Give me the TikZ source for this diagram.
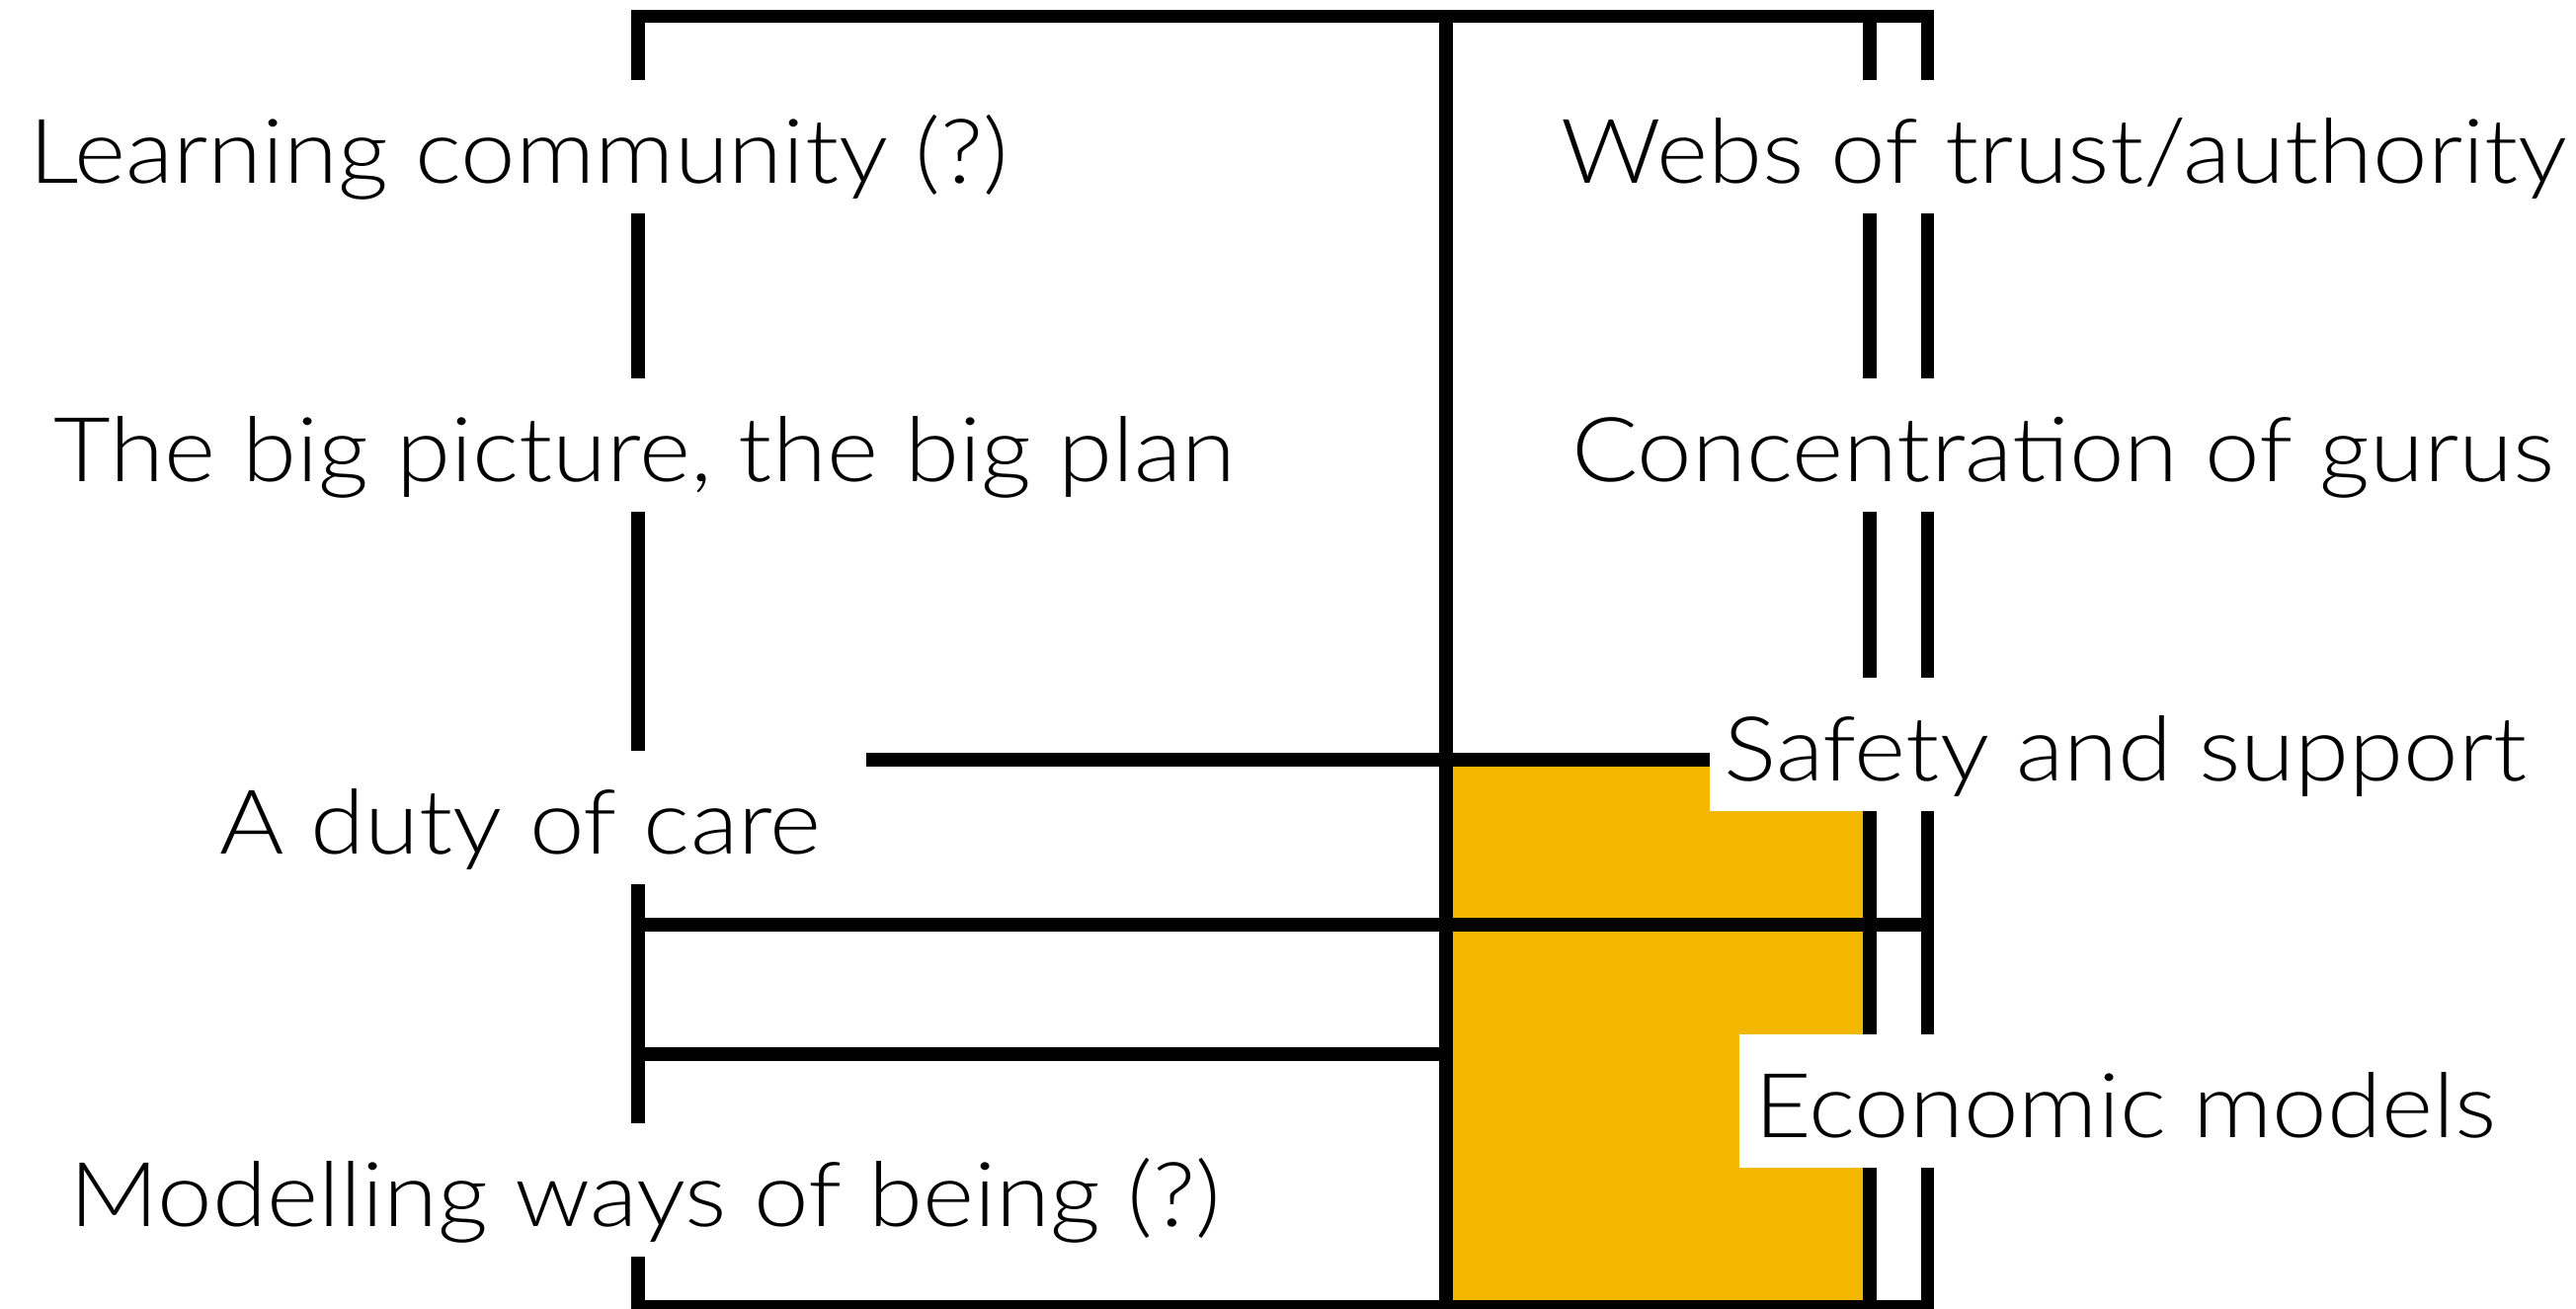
\documentclass[tikz,border=0pt]{standalone}
\usepackage{fontspec}
\setmainfont{Lato}[UprightFont=* Light, FakeStretch=1.1]
\usetikzlibrary{positioning}
\definecolor{mustard}{RGB}{243,183,0}
\tikzset{
  barline/.style={line width=0.135cm},
  tag/.style={fill=white, inner xsep=0.15cm, inner ysep=0pt,
    text height=1.05cm, text depth=0.3cm, anchor=base,
    font=\fontsize{25.8}{30}\selectfont}
}

\begin{document}
\begin{tikzpicture}
      \useasboundingbox (0,0) rectangle (26.08,13.25);
      \fill[mustard] (14.64,0) rectangle (18.93,5.56);
      \draw[barline] (6.46,0.02) rectangle (19.515,13.085);
      \draw[barline] (14.64,0.02) -- (14.64,13.085);
      \draw[barline] (18.93,0.02) -- (18.93,13.085);
      \draw[barline] (8.77,5.56) -- (18.93,5.56);
      \draw[barline] (6.46,3.89) -- (19.515,3.89);
      \draw[barline] (6.46,2.58) -- (14.64,2.58);
      \node[tag] (learning) at (5.25,11.39) {Learning community (?)};
      \node[tag] (bigplan) at (6.53,8.37) {The big picture, the big plan};
      \node[tag] (care) at (5.27,4.60) {A duty of care};
      \node[tag] (being) at (6.53,0.83) {Modelling ways of being (?)};
      \node[tag] (webs) at (20.90,11.39) {Webs of trust/authority};
      \node[tag] (gurus) at (20.89,8.37) {Concentration of gurus};
      \node[tag] (safety) at (21.52,5.34) {Safety and support};
      \node[tag] (economic) at (21.52,1.73) {Economic models};
    \end{tikzpicture}
\end{document}
